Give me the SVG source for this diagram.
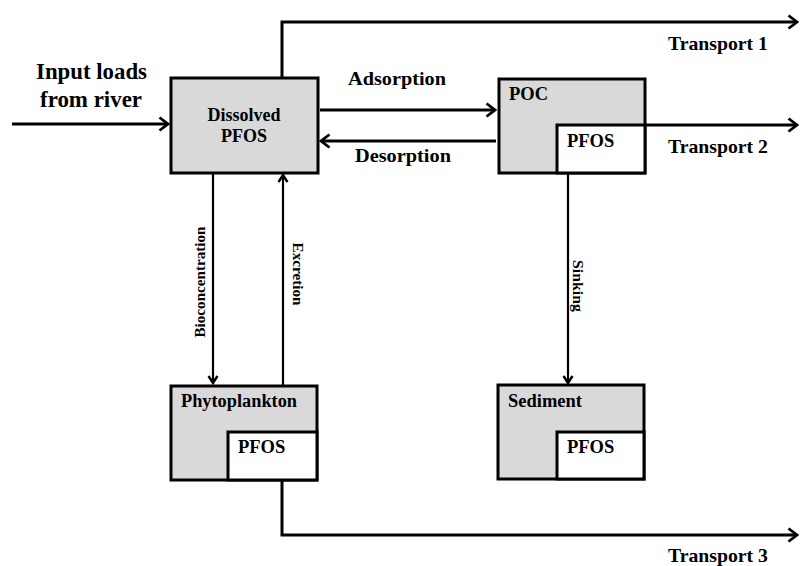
<svg xmlns="http://www.w3.org/2000/svg" width="800" height="566" viewBox="0 0 800 566">
<style>
.box{fill:#d9d9d9;stroke:#000;stroke-width:3}
.inner{fill:#fff;stroke:#000;stroke-width:3}
.t{font-family:"Liberation Serif","Times New Roman",serif;font-weight:bold;fill:#000}
.c{fill:none;stroke:#000;stroke-width:3}
.c2{fill:none;stroke:#000;stroke-width:2.2}
</style>
<defs>
<marker id="ah" markerUnits="userSpaceOnUse" viewBox="0 0 12 16" refX="10" refY="8" markerWidth="12" markerHeight="16" orient="auto">
<path d="M1.5,1.5 L10,8 L1.5,14.5" fill="none" stroke="#000" stroke-width="2.8"/>
</marker>
<marker id="as" markerUnits="userSpaceOnUse" viewBox="0 0 10 12" refX="8.5" refY="6" markerWidth="10" markerHeight="12" orient="auto">
<path d="M1.5,1.5 L8.5,6 L1.5,10.5" fill="none" stroke="#000" stroke-width="2.4"/>
</marker>
</defs>
<rect width="800" height="566" fill="#fff"/>
<g id="connectors">
<line class="c" x1="12" y1="124" x2="168" y2="124" marker-end="url(#ah)"/>
<polyline class="c" points="282,78 282,22 797,22" marker-end="url(#ah)"/>
<line class="c" x1="320" y1="110" x2="495" y2="110" marker-end="url(#ah)"/>
<line class="c" x1="496" y1="141" x2="321" y2="141" marker-end="url(#ah)"/>
<line class="c" x1="645" y1="125" x2="797" y2="125" marker-end="url(#ah)"/>
<line class="c2" x1="213" y1="173" x2="213" y2="383" marker-end="url(#as)"/>
<line class="c2" x1="283" y1="385" x2="283" y2="175" marker-end="url(#as)"/>
<line class="c2" x1="568" y1="173" x2="568" y2="383" marker-end="url(#as)"/>
<polyline class="c" points="282,480 282,535 797,535" marker-end="url(#ah)"/>
</g>
<g id="labels">
<text class="t" x="36" y="79" font-size="24" textLength="111" lengthAdjust="spacingAndGlyphs">Input loads</text>
<text class="t" x="40" y="107" font-size="24" textLength="102" lengthAdjust="spacingAndGlyphs">from river</text>
<text class="t" x="397" y="85" font-size="19.5" text-anchor="middle" textLength="98" lengthAdjust="spacingAndGlyphs">Adsorption</text>
<text class="t" x="403" y="162" font-size="19.5" text-anchor="middle" textLength="96" lengthAdjust="spacingAndGlyphs">Desorption</text>
<text class="t" x="668" y="50" font-size="19.5" textLength="100" lengthAdjust="spacingAndGlyphs">Transport 1</text>
<text class="t" x="668" y="153" font-size="19.5" textLength="100" lengthAdjust="spacingAndGlyphs">Transport 2</text>
<text class="t" x="668" y="562" font-size="19.5" textLength="100" lengthAdjust="spacingAndGlyphs">Transport 3</text>
<text class="t" font-size="15.5" text-anchor="middle" transform="translate(204.5,282) rotate(-90)" textLength="111" lengthAdjust="spacingAndGlyphs">Bioconcentration</text>
<text class="t" font-size="15.5" text-anchor="middle" transform="translate(293,274) rotate(90)" textLength="63" lengthAdjust="spacingAndGlyphs">Excretion</text>
<text class="t" font-size="15.5" text-anchor="middle" transform="translate(573,286) rotate(90)" textLength="52" lengthAdjust="spacingAndGlyphs">Sinking</text>
</g>
<g id="dissolved">
<rect class="box" x="171" y="78" width="147" height="95"/>
<text class="t" x="244" y="121" font-size="18" text-anchor="middle" textLength="73" lengthAdjust="spacingAndGlyphs">Dissolved</text>
<text class="t" x="244" y="142" font-size="18" text-anchor="middle">PFOS</text>
</g>
<g id="poc">
<rect class="box" x="499" y="79" width="146" height="94"/>
<rect class="inner" x="557" y="125" width="88" height="48"/>
<text class="t" x="509" y="100" font-size="18.5">POC</text>
<text class="t" x="567" y="147" font-size="18.5">PFOS</text>
</g>
<g id="phytoplankton">
<rect class="box" x="171" y="386" width="146" height="94"/>
<rect class="inner" x="228" y="432" width="89" height="48"/>
<text class="t" x="181" y="407" font-size="18" textLength="116" lengthAdjust="spacingAndGlyphs">Phytoplankton</text>
<text class="t" x="238" y="453" font-size="18.5">PFOS</text>
</g>
<g id="sediment">
<rect class="box" x="498" y="385" width="146" height="94"/>
<rect class="inner" x="557" y="432" width="87" height="47"/>
<text class="t" x="508" y="407" font-size="18.5">Sediment</text>
<text class="t" x="567" y="453" font-size="18.5">PFOS</text>
</g>
</svg>
